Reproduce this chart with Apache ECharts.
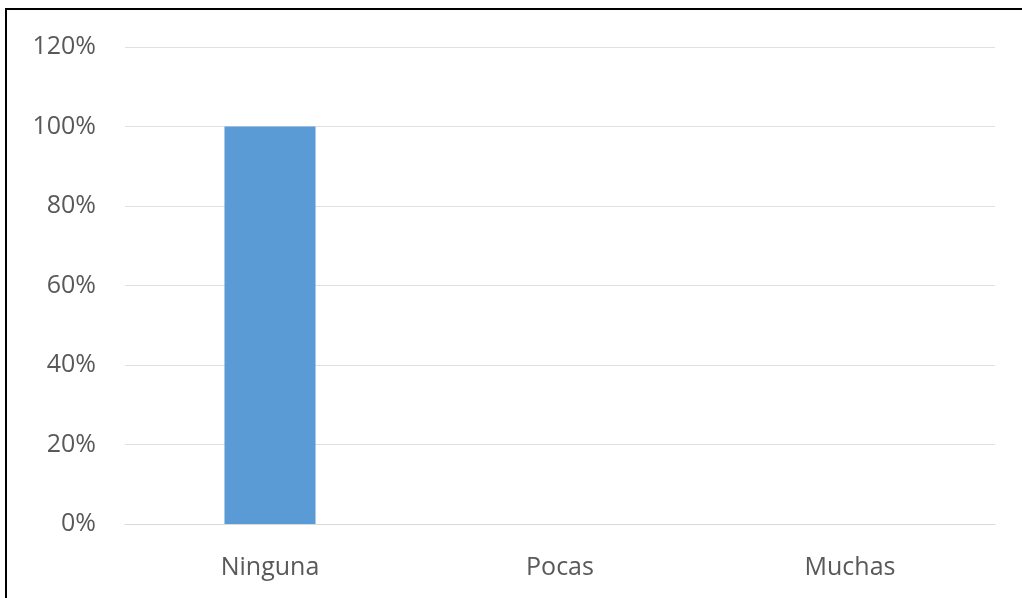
<!DOCTYPE html>
<html>
<head>
<meta charset="utf-8">
<script src="https://cdn.jsdelivr.net/npm/echarts@6/dist/echarts.min.js"></script>
<style>
  html, body { margin: 0; padding: 0; background: #fff; }
  #wrap { position: relative; width: 1022px; height: 598px; overflow: hidden; }
  #chart { position: absolute; left: 0; top: 0; width: 1022px; height: 598px; }
  #frame { position: absolute; left: 5px; top: 8px; width: 1100px; height: 700px;
           border-top: 2px solid #000; border-left: 2px solid #000; pointer-events: none; }
</style>
</head>
<body>
<div id="wrap">
  <div id="chart"></div>
  <div id="frame"></div>
</div>
<script>
// Share of responses per category
const categories = ['Ninguna', 'Pocas', 'Muchas'];
const values = [1.0, 0, 0];
const yTicks = [0, 0.2, 0.4, 0.6, 0.8, 1.0, 1.2];

const chart = echarts.init(document.getElementById('chart'), null, { renderer: 'canvas' });
const textStyle = { color: '#595959', fontFamily: 'Open Sans', fontSize: 25 };

chart.setOption({
  animation: false,
  grid: { left: 125, right: 27, top: 47, bottom: 74, containLabel: false },
  xAxis: {
    type: 'category',
    data: categories,
    axisLine: { show: true, lineStyle: { color: '#d9d9d9', width: 1 } },
    axisTick: { show: false },
    axisLabel: Object.assign({ margin: 31 }, textStyle)
  },
  yAxis: {
    type: 'value',
    min: yTicks[0],
    max: yTicks[yTicks.length - 1],
    interval: 0.2,
    axisLine: { show: false },
    axisTick: { show: false },
    splitLine: { lineStyle: { color: '#e0e0e0', width: 1 } },
    axisLabel: Object.assign({
      margin: 29,
      formatter: v => Math.round(v * 100) + '%'
    }, textStyle)
  },
  series: [{
    type: 'bar',
    data: values,
    barWidth: '31.4%',
    itemStyle: { color: '#5b9bd5' }
  }]
});
</script>
</body>
</html>
